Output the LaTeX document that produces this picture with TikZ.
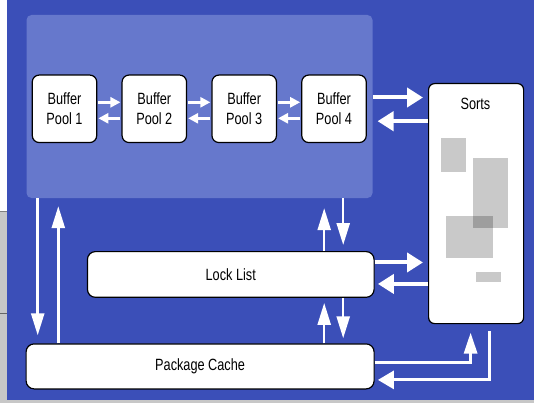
\documentclass[tikz,border=0pt]{standalone}
\usepackage{fontspec}
\newfontfamily\lbl{Liberation Sans}[FakeStretch=0.78]
\usetikzlibrary{arrows.meta}
\definecolor{bgblue}{RGB}{59,79,184}
\definecolor{poolblue}{RGB}{102,120,204}
\tikzset{
  box/.style={draw=black, line width=1.2pt, fill=white, rounded corners=7pt,
    inner sep=0pt, align=center, font=\lbl\fontsize{16.3}{20}\selectfont},
  arrBP/.style={white, line width=2.5pt, -{Triangle[length=10pt,width=10pt]}},
  arrS/.style={white, line width=4pt, -{Triangle[length=16pt,width=19pt]}},
  arrV/.style={white, line width=2.5pt, -{Triangle[length=22pt,width=13pt]}},
  arrE/.style={white, line width=3pt},
  patch/.style={fill=black, fill opacity=0.21},
}
\begin{document}
\begin{tikzpicture}[x=1pt,y=-1pt]
\useasboundingbox (0,0) rectangle (534,403);
% page edge strips
\fill[white] (0,0) rectangle (7,211);
\fill[black!22] (0,211) rectangle (7,403);
\fill[black!22] (7,400) rectangle (534,403);
\draw[black!50, line width=1pt] (0,211) -- (7,211);
\draw[black!60, line width=1pt] (0,313) -- (7,313);
% background
\fill[bgblue] (7,0) rectangle (534,400);

% buffer pool area
\node[fill=poolblue, rounded corners=5pt, minimum width=346pt, minimum height=183pt,
  inner sep=0pt] (pool) at (199.5,106.5) {};

% buffer pools
\foreach \i/\x in {1/64.5, 2/154.3, 3/244.2, 4/334}{
  \node[box, minimum width=64.5pt, minimum height=67.5pt] (bp\i) at (\x,108.8)
    {Buffer\\Pool \i};
}

% sorts
\node[box, rounded corners=6pt, minimum width=95pt, minimum height=240pt,
  anchor=north west] (sorts) at (428,83) {};
\node[font=\lbl\fontsize{16.3}{20}\selectfont, anchor=base] (sortslbl)
  at (475.5,110) {Sorts};
\fill[patch] (441,138) rectangle (466,172);
\fill[patch] (473,158) rectangle (508,228);
\fill[patch] (446,216) rectangle (493,258);
\fill[patch] (476,272) rectangle (501,282);

% lock list and package cache
\node[box, rounded corners=8pt, minimum width=286.7pt, minimum height=45.7pt,
  anchor=north west] (lock) at (86.8,251) {Lock List};
\node[box, rounded corners=8pt, minimum width=348pt, minimum height=45pt,
  anchor=north west] (cache) at (25.5,343.3) {Package Cache};

% arrows between buffer pools
\foreach \a/\b in {1/2, 2/3, 3/4}{
  \draw[arrBP, shorten <=1pt, shorten >=1pt]
    ([yshift=6.5pt]bp\a.east) -- ([yshift=6.5pt]bp\a.east -| bp\b.west);
  \draw[arrBP, shorten <=1pt, shorten >=1pt]
    ([yshift=-9.5pt]bp\b.west) -- ([yshift=-9.5pt]bp\b.west -| bp\a.east);
}

% buffer pools <-> sorts
\draw[arrS, shorten <=6pt, shorten >=5pt]
  ([yshift=11.3pt]bp4.east) -- ([yshift=11.3pt]bp4.east -| sorts.west);
\draw[arrS, shorten >=10.7pt]
  ([yshift=-12.4pt]bp4.east -| sorts.west) -- ([yshift=-12.4pt]bp4.east);

% lock list <-> sorts
\draw[arrS, shorten >=5pt]
  ([yshift=12pt]lock.east) -- ([yshift=12pt]lock.east -| sorts.west);
\draw[arrS, shorten >=3.2pt]
  ([yshift=-9.5pt]lock.east -| sorts.west) -- ([yshift=-9.5pt]lock.east);

% buffer pools <-> package cache
\draw[arrV, shorten >=8pt]
  ([xshift=12.2pt]cache.north west |- pool.south) -- ([xshift=12.2pt]cache.north west);
\draw[arrV, shorten >=8pt]
  ([xshift=32.8pt]cache.north west) -- ([xshift=32.8pt]cache.north west |- pool.south);

% buffer pools <-> lock list
\draw[arrV, shorten >=10pt]
  ([xshift=-50.5pt]lock.north east) -- ([xshift=-50.5pt]lock.north east |- pool.south);
\draw[arrV, shorten >=6pt]
  ([xshift=-31.5pt]lock.north east |- pool.south) -- ([xshift=-31.5pt]lock.north east);

% lock list <-> package cache
\draw[arrV, shorten >=5pt]
  ([xshift=-50.5pt]lock.north east |- cache.north) -- ([xshift=-50.5pt]lock.south east);
\draw[arrV, shorten >=5pt]
  ([xshift=-31.5pt]lock.south east) -- ([xshift=-31.5pt]lock.north east |- cache.north);

% package cache <-> sorts
\draw[arrE, -{Triangle[length=21pt,width=13pt]}, shorten >=8.4pt]
  ([yshift=3.5pt]cache.east) -| ([xshift=-5.5pt]sorts.south);
\draw[arrE, -{Triangle[length=16pt,width=18pt]}, shorten >=3.2pt]
  ([xshift=13.8pt,yshift=-6.7pt]sorts.south) |- ([yshift=-13.5pt]cache.east);
\end{tikzpicture}
\end{document}
